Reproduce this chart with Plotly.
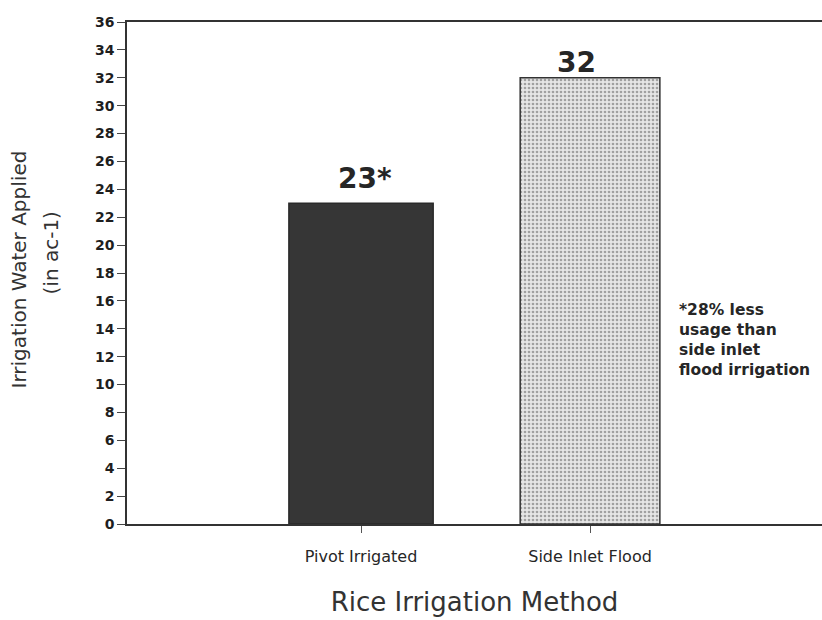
import plotly.graph_objects as go

# Irrigation water applied by rice irrigation method
methods = ["Pivot Irrigated", "Side Inlet Flood"]
water_applied = [23, 32]
value_labels = ["23*", "32"]
y_ticks = list(range(0, 37, 2))
note_lines = ["*28% less", "usage than", "side inlet", "flood irrigation"]
y_title_lines = ["Irrigation Water Applied", "(in ac-1)"]

FONT = "DejaVu Sans, Arial"
INK = "#262626"

fig = go.Figure()

fig.add_trace(go.Bar(
    x=[methods[0]], y=[water_applied[0]], width=0.63,
    marker=dict(color="#363636", line=dict(color="#2a2a2a", width=1.5)),
    showlegend=False,
))
fig.add_trace(go.Bar(
    x=[methods[1]], y=[water_applied[1]], width=0.61,
    marker=dict(
        color="#e2e2e2",
        line=dict(color="#333333", width=1.5),
        pattern=dict(shape=".", size=4, solidity=0.35,
                     fgcolor="#a0a0a0", bgcolor="#e6e6e6", fillmode="replace"),
    ),
    showlegend=False,
))

# value labels above the bars (small offsets keep them where the printed labels sit)
label_xshift = [4, -14]
label_yshift = [6, -3]
for m, v, lab, dx, dy in zip(methods, water_applied, value_labels, label_xshift, label_yshift):
    fig.add_annotation(x=m, y=v, text=f"<b>{lab}</b>", showarrow=False,
                       yanchor="bottom", xshift=dx, yshift=dy,
                       font=dict(family=FONT, size=28, color=INK))

# footnote beside the flood bar
fig.add_annotation(x=1.38, y=13.2, xref="x", yref="y",
                   text="<b>" + "<br>".join(note_lines) + "</b>",
                   showarrow=False, xanchor="left", yanchor="middle", align="left",
                   font=dict(family=FONT, size=15.5, color=INK))

# two-line y-axis title
fig.add_annotation(x=-0.154, y=0.507, xref="paper", yref="paper",
                   text=y_title_lines[0], textangle=-90, showarrow=False,
                   xanchor="center", yanchor="middle",
                   font=dict(family=FONT, size=20, color="#333333"))
fig.add_annotation(x=-0.11, y=0.54, xref="paper", yref="paper",
                   text=y_title_lines[1], textangle=-90, showarrow=False,
                   xanchor="center", yanchor="middle",
                   font=dict(family=FONT, size=20, color="#333333"))

fig.update_layout(
    width=822, height=620,
    margin=dict(l=127, r=0, t=22, b=96),
    paper_bgcolor="white", plot_bgcolor="white",
    xaxis=dict(
        type="category", range=[-1.022, 2.013],
        showline=True, linecolor="#333333", linewidth=2, mirror=True,
        ticks="outside", ticklen=7, tickcolor="#555555", tickwidth=1,
        ticklabelstandoff=10,
        showgrid=False,
        tickfont=dict(family=FONT, size=16, color=INK),
        title=dict(text="Rice Irrigation Method", standoff=28,
                   font=dict(family=FONT, size=26, color="#333333")),
    ),
    yaxis=dict(
        range=[0, 36], tickvals=y_ticks,
        showline=True, linecolor="#333333", linewidth=1.5,
        ticks="outside", ticklen=8, tickcolor="#444444", tickwidth=1,
        showgrid=False, zeroline=False,
        tickfont=dict(family=FONT, size=14, color="#1e1e1e", weight="bold"),
    ),
)

fig.write_html("out.html")
